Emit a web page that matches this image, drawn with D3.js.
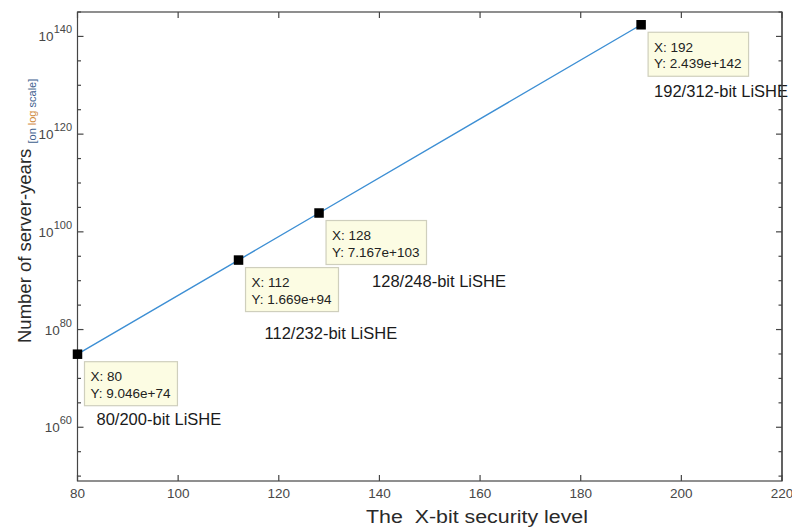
<!DOCTYPE html>
<html>
  <head>
    <meta charset="utf-8">
    <title>LiSHE server-years</title>
    <script src="https://d3js.org/d3.v7.min.js"></script>
    <style>
      body { margin: 0; background: #fff; }
      text { font-family: "Liberation Sans", Arial, Helvetica, sans-serif; }
      .tick-label { fill: #474747; font-size: 13.5px; }
      .tip-text { fill: #222; font-size: 13.5px; }
      .scheme { fill: #1a1a1a; font-size: 16.5px; }
    </style>
  </head>
  <body>
    <svg width="792" height="528"></svg>
  <script>
    // data
    var bits = [80, 112, 128, 192];
    var serverYears = [9.046e74, 1.669e94, 7.167e103, 2.439e142];
    var schemes = ["80/200-bit LiSHE", "112/232-bit LiSHE", "128/248-bit LiSHE", "192/312-bit LiSHE"];
    var xTicks = [80, 100, 120, 140, 160, 180, 200, 220];
    var yTickExp = [60, 80, 100, 120, 140];
    var yMinorExp = [50, 55, 65, 70, 75, 85, 90, 95, 105, 110, 115, 125, 130, 135, 145];

    // where each scheme label was placed, relative to its point
    var labelOffset = [[19, 71], [26, 79], [53, 74], [13, 72]];

    var svg = d3.select("svg");
    var plotL = 77.5, plotR = 782, plotT = 12, plotB = 481;
    var axisColor = "#454545";

    var x = d3.scaleLinear().domain([80, 220]).range([plotL, plotR]);
    var y = d3.scaleLog().domain([1e49, 1e145]).range([plotB, plotT]);

    // the line
    var line = d3.line()
      .x(function(d, i) { return x(bits[i]); })
      .y(function(d) { return y(d); });

    svg.append("path")
      .datum(serverYears)
      .attr("d", line)
      .attr("fill", "none")
      .attr("stroke", "#3d8fd4")
      .attr("stroke-width", 1.4);

    // box + ticks
    var g = svg.append("g").attr("stroke", axisColor).attr("stroke-width", 1.2);
    g.append("rect")
      .attr("x", plotL).attr("y", plotT)
      .attr("width", plotR - plotL).attr("height", plotB - plotT)
      .attr("fill", "none");

    xTicks.forEach(function(t) {
      g.append("line").attr("x1", x(t)).attr("x2", x(t)).attr("y1", plotB).attr("y2", plotB - 6);
      g.append("line").attr("x1", x(t)).attr("x2", x(t)).attr("y1", plotT).attr("y2", plotT + 6);
    });
    yTickExp.forEach(function(e) {
      var yy = y(Math.pow(10, e));
      g.append("line").attr("x1", plotL).attr("x2", plotL + 6).attr("y1", yy).attr("y2", yy);
      g.append("line").attr("x1", plotR).attr("x2", plotR - 6).attr("y1", yy).attr("y2", yy);
    });
    yMinorExp.forEach(function(e) {
      var yy = y(Math.pow(10, e));
      g.append("line").attr("x1", plotL).attr("x2", plotL + 3.5).attr("y1", yy).attr("y2", yy);
      g.append("line").attr("x1", plotR).attr("x2", plotR - 3.5).attr("y1", yy).attr("y2", yy);
    });

    // tick labels
    svg.selectAll(".xlab")
      .data(xTicks)
      .enter().append("text")
      .attr("class", "tick-label")
      .attr("x", function(d) { return x(d); })
      .attr("y", 498)
      .attr("text-anchor", "middle")
      .text(function(d) { return d; });

    yTickExp.forEach(function(e) {
      var t = svg.append("text")
        .attr("class", "tick-label")
        .attr("x", 72)
        .attr("y", y(Math.pow(10, e)) + 5)
        .attr("text-anchor", "end")
        .attr("font-size", "14.5px");
      t.append("tspan").text("10");
      t.append("tspan").attr("dy", -8).attr("font-size", "11px").text(e);
    });

    // axis titles
    svg.append("text")
      .attr("x", 366)
      .attr("y", 523)
      .attr("font-size", "18px")
      .attr("fill", "#2a2a2a")
      .attr("textLength", 222)
      .attr("lengthAdjust", "spacingAndGlyphs")
      .style("white-space", "pre")
      .text("The  X-bit security level");

    var yl = svg.append("text")
      .attr("transform", "translate(31,343) rotate(-90)")
      .attr("font-size", "18.5px")
      .attr("fill", "#2a2a2a");
    yl.append("tspan").text("Number of server-years ");
    var sub = yl.append("tspan").attr("dy", 5).attr("font-size", "11px");
    sub.append("tspan").attr("fill", "#3f5f8f").text("[on ");
    sub.append("tspan").attr("fill", "#d08a3a").text("log");
    sub.append("tspan").attr("fill", "#3f5f8f").text(" scale]");

    // markers
    svg.selectAll(".pt")
      .data(serverYears)
      .enter().append("rect")
      .attr("x", function(d, i) { return x(bits[i]) - 4.75; })
      .attr("y", function(d) { return y(d) - 4.75; })
      .attr("width", 9.5).attr("height", 9.5)
      .attr("fill", "#000");

    // data tips
    serverYears.forEach(function(v, i) {
      var px = x(bits[i]), py = y(v);
      var tip = svg.append("g").attr("transform", "translate(" + (px + 7) + "," + (py + 7.5) + ")");
      var box = tip.append("rect")
        .attr("height", 44)
        .attr("fill", "#fcfce3")
        .attr("stroke", "#cfcfbd")
        .attr("stroke-width", 1.2);
      var t1 = tip.append("text").attr("class", "tip-text").attr("x", 6).attr("y", 19.5)
        .text("X: " + bits[i]);
      var t2 = tip.append("text").attr("class", "tip-text").attr("x", 6).attr("y", 36)
        .text("Y: " + v.toExponential(3));
      var w = Math.max(t1.node().getComputedTextLength(), t2.node().getComputedTextLength());
      box.attr("width", w + 13);

      svg.append("text")
        .attr("class", "scheme")
        .attr("x", px + labelOffset[i][0])
        .attr("y", py + labelOffset[i][1])
        .text(schemes[i]);
    });

    // right edge is drawn over the last label, like in the figure
    svg.append("line")
      .attr("x1", plotR).attr("x2", plotR).attr("y1", plotT).attr("y2", plotB)
      .attr("stroke", axisColor).attr("stroke-width", 1.2);
  </script>
  </body>
</html>
